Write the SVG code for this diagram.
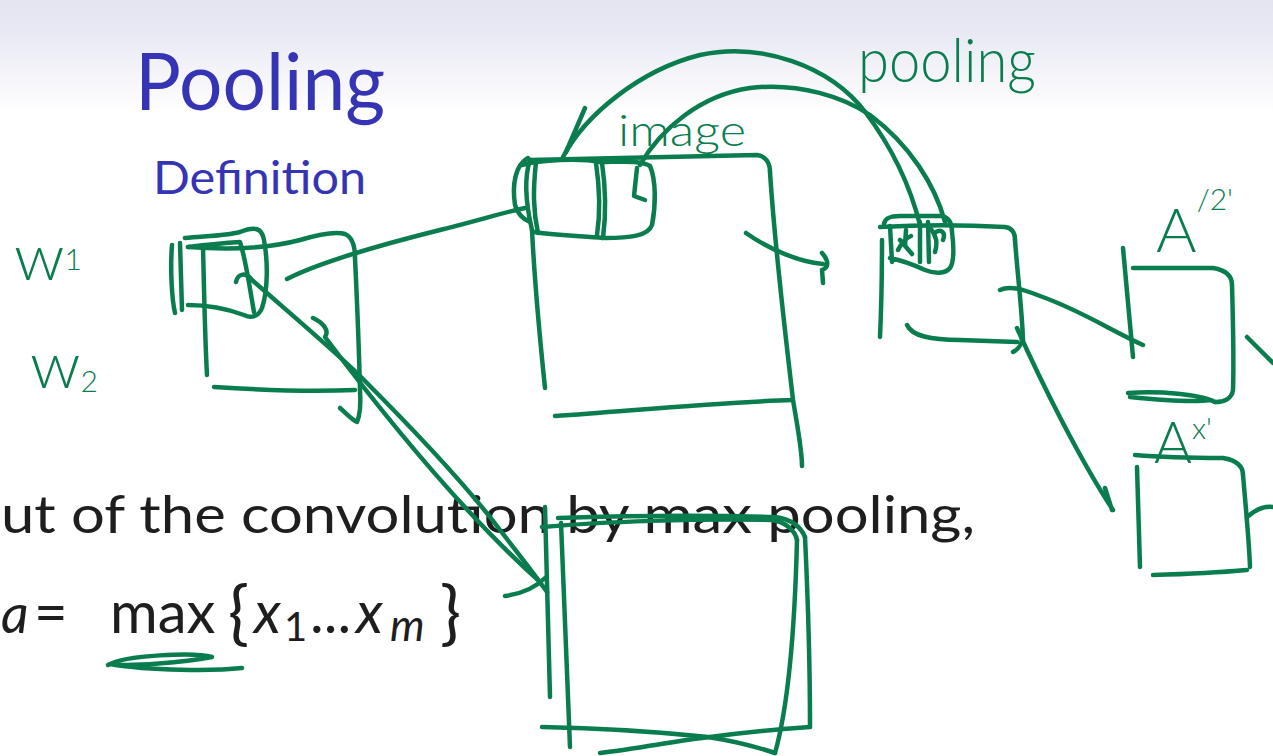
<svg xmlns="http://www.w3.org/2000/svg" width="1273" height="756" viewBox="0 0 1273 756">
<defs>
<linearGradient id="bg" x1="0" y1="0" x2="0" y2="1">
<stop offset="0" stop-color="#e4e4f1"/>
<stop offset="0.04" stop-color="#e8e8f3"/>
<stop offset="0.15" stop-color="#ffffff"/>
<stop offset="1" stop-color="#ffffff"/>
</linearGradient>
<style>
.ink{fill:none;stroke:#0a7d4f;stroke-width:4.5;stroke-linecap:round;stroke-linejoin:round}
.hw{fill:#0a7d4f;font-family:Lato,"DejaVu Sans",sans-serif;font-weight:300}
.title{fill:#3434b4;font-family:Lato,"Open Sans",sans-serif}
.body{fill:#1e1e1e;font-family:Lato,"Open Sans",sans-serif}
</style>
</defs>
<rect width="1273" height="756" fill="url(#bg)"/>

<g id="slide-text">
<text class="title" x="135" y="110" font-size="80" textLength="250" lengthAdjust="spacingAndGlyphs">Pooling</text>
<text class="title" x="153" y="194" font-size="47" textLength="213" lengthAdjust="spacingAndGlyphs">Definition</text>
<text class="body" x="1" y="533" font-size="52" textLength="974" lengthAdjust="spacingAndGlyphs">ut of the convolution by max pooling,</text>
<text class="body" x="1" y="633" font-size="54" font-style="italic">a</text>
<text class="body" x="34" y="633" font-size="58">=</text>
<text class="body" x="110" y="633" font-size="58">max</text>
<text class="body" y="633" font-size="58"><tspan x="228" font-size="70" dy="4">{</tspan><tspan x="254" dy="-4" font-style="italic">x</tspan><tspan x="284" font-size="40" dy="8">1</tspan><tspan x="310" dy="-8">...</tspan><tspan x="356" font-style="italic">x</tspan><tspan x="390" font-style="italic" font-size="44" dy="8">m</tspan><tspan x="440" font-size="70" dy="-4">}</tspan></text>
</g>

<g id="labels">
<text class="hw" x="14" y="280" font-size="66">w<tspan font-size="30" dy="-10">1</tspan></text>
<text class="hw" x="30" y="388" font-size="66">w<tspan font-size="30" dy="4">2</tspan></text>
<text class="hw" x="618" y="146" font-size="44" textLength="128" lengthAdjust="spacingAndGlyphs">image</text>
<text class="hw" x="858" y="82" font-size="62" textLength="178" lengthAdjust="spacingAndGlyphs">pooling</text>
<path class="ink" d="M108,665 C125,655 195,652 212,657 C185,662 130,667 110,664 C150,671 215,671 242,668"/>
</g>

<g id="filter-w">
<path class="ink" d="M172,245 C170,270 172,300 175,313"/>
<path class="ink" d="M180,243 L182,310"/>
<path class="ink" d="M185,238 C205,236 225,236 240,232 C255,226 262,228 264,240 C268,262 268,290 262,308 C258,318 250,318 244,315 C225,308 205,305 188,305"/>
<path class="ink" d="M188,247 C205,245 225,243 240,242 C246,260 250,290 254,312"/>
</g>

<g id="fmap-1">
<path class="ink" d="M203,246 C204,290 205,340 207,375"/>
<path class="ink" d="M188,247 C230,250 270,248 300,240 C320,234 335,231 345,234 C352,237 355,245 355,258"/>
<path class="ink" d="M355,258 C357,300 359,350 360,390 C361,405 360,415 357,422 M340,408 C348,415 352,420 357,422"/>
<path class="ink" d="M214,387 C260,390 310,392 355,390"/>
</g>

<g id="image">
<path class="ink" d="M528,158 C515,165 512,185 515,205 C518,215 525,220 530,222"/>
<path class="ink" d="M530,160 C525,175 525,200 532,230"/>
<path class="ink" d="M536,162 C533,190 533,210 538,233"/>
<path class="ink" d="M522,165 C540,160 580,158 600,162"/>
<path class="ink" d="M534,232 C560,236 585,236 603,238"/>
<path class="ink" d="M596,163 C600,190 600,215 597,235 M602,163 C606,190 606,215 603,238"/>
<path class="ink" d="M600,162 C620,162 640,160 650,166 C656,180 656,205 652,225 C648,236 630,238 605,238"/>
<path class="ink" d="M637,168 L634,196 L645,200"/>
<path class="ink" d="M585,108 L566,152"/>
<path class="ink" d="M530,160 L757,155 C765,156 770,162 770,172"/>
<path class="ink" d="M770,172 C775,250 785,330 793,400 C798,430 802,450 802,466"/>
<path class="ink" d="M532,230 C535,290 540,340 545,388"/>
<path class="ink" d="M555,416 C640,410 720,402 793,400"/>
</g>

<g id="pooled">
<path class="ink" d="M882,240 C882,280 881,315 880,337"/>
<path class="ink" d="M884,224 C885,218 890,216 900,216 L942,216 C950,218 952,224 952,232 C954,248 954,262 950,268 C945,274 935,274 925,270 C912,264 900,260 890,258 M890,226 L892,262"/>
<path class="ink" d="M920,222 L920,262 M928,222 L929,262"/>
<path class="ink" d="M898,250 C902,242 906,238 911,236 M900,240 L912,254 M906,230 L905,246 M936,232 C941,229 946,232 943,240 M931,229 C936,236 938,242 935,252"/>
<path class="ink" d="M880,227 C930,224 970,225 1005,227 C1012,228 1015,233 1015,240"/>
<path class="ink" d="M1015,240 C1018,280 1022,310 1023,340"/>
<path class="ink" d="M907,325 C912,336 930,340 960,340 L1017,342 M1013,352 C1020,348 1022,344 1022,338"/>
</g>

<g id="a2">
<path class="ink" d="M1123,248 L1133,357"/>
<path class="ink" d="M1133,268 L1213,268 C1225,270 1232,275 1232,285"/>
<path class="ink" d="M1232,285 C1233,320 1234,360 1233,390 C1232,398 1225,402 1215,402"/>
<path class="ink" d="M1128,393 C1160,391 1200,394 1215,402 M1130,397 C1170,401 1195,402 1210,400"/>
<text class="hw" x="1156" y="252" font-size="62">A<tspan font-size="30" dy="-42">/2'</tspan></text>
</g>

<g id="a1">
<path class="ink" d="M1135,455 C1170,458 1200,458 1223,458 C1235,460 1243,465 1243,475"/>
<path class="ink" d="M1243,475 C1246,510 1249,540 1250,567"/>
<path class="ink" d="M1137,467 L1140,567"/>
<path class="ink" d="M1153,575 C1190,574 1225,572 1247,570"/>
<text class="hw" x="1154" y="463" font-size="58">A<tspan font-size="30" dy="-24">x'</tspan></text>
</g>

<g id="conv-out">
<path class="ink" d="M545,507 C547,580 549,640 550,697"/>
<path class="ink" d="M561,523 C564,600 568,680 570,747"/>
<path class="ink" d="M542,527 C600,522 700,518 772,520 C785,522 795,530 797,540"/>
<path class="ink" d="M558,518 C620,516 700,515 775,517 C790,519 800,525 805,537"/>
<path class="ink" d="M805,537 C808,600 810,680 810,727"/>
<path class="ink" d="M797,540 C795,620 790,700 775,753"/>
<path class="ink" d="M542,727 C600,728 660,732 708,737 C740,742 760,748 775,753"/>
<path class="ink" d="M600,753 C640,748 670,742 702,738 C740,733 780,729 810,727"/>
</g>

<g id="connectors">
<path class="ink" d="M287,279 C320,262 380,245 440,230 C480,220 505,212 525,208"/>
<path class="ink" d="M236,282 C238,273 246,272 252,280 C300,322 340,356 360,376 C420,436 470,490 500,530 C520,556 535,575 547,592"/>
<path class="ink" d="M313,318 C322,322 330,330 325,337 C380,410 460,510 538,580"/>
<path class="ink" d="M505,596 C520,594 535,588 545,578"/>
<path class="ink" d="M563,157 C585,115 640,70 700,55 C760,42 830,65 866,113 C890,145 910,185 920,225"/>
<path class="ink" d="M640,165 C660,130 700,95 750,88 C800,82 845,98 870,115 C910,145 935,185 945,222"/>
<path class="ink" d="M746,233 C770,250 800,262 823,264 M822,253 C830,262 828,268 822,270 L823,283"/>
<path class="ink" d="M1000,290 C1010,285 1025,290 1040,296 C1080,310 1110,330 1143,345"/>
<path class="ink" d="M1017,328 C1040,380 1080,460 1113,510 M1105,488 L1112,510"/>
<path class="ink" d="M1247,337 C1255,345 1265,355 1273,363"/>
<path class="ink" d="M1247,517 C1255,510 1265,506 1273,507"/>
</g>
</svg>
